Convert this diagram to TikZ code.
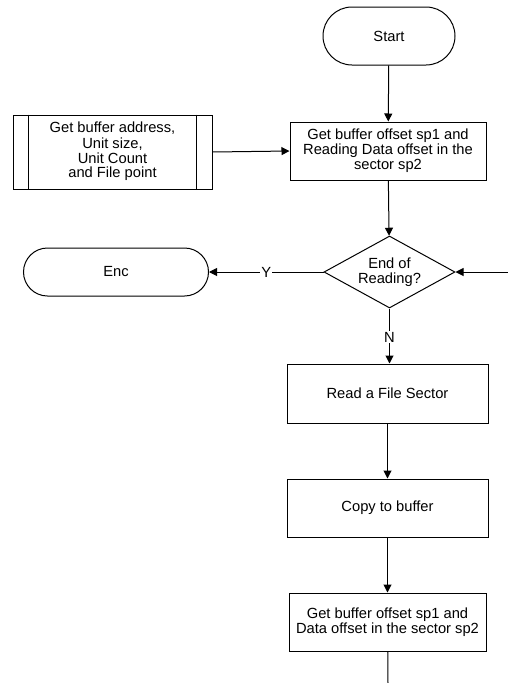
\documentclass[tikz,border=0pt]{standalone}
\usepackage{fontspec}
\setmainfont{Liberation Sans}
\usetikzlibrary{shapes.geometric,shapes.misc,arrows.meta}
\begin{document}
\begin{tikzpicture}[x=1pt,y=-1pt,
  txt/.style={font=\fontsize{14.7}{15}\selectfont},
  every node/.style={txt, align=center, line width=1pt},
  term/.style={draw, rounded rectangle, inner sep=0pt},
  procbox/.style={draw, rectangle, inner sep=0pt},
  decide/.style={draw, diamond, inner sep=0pt, aspect=1.82, minimum width=131pt, minimum height=72pt},
  flow/.style={line width=1pt, -{Triangle[length=8pt,width=8pt]}},
  plain/.style={line width=1pt},
  tag/.style={fill=white, inner sep=1pt, txt}]
\useasboundingbox (0,0) rectangle (508,683);

% terminators
\node[term, minimum width=132pt, minimum height=58pt] (start) at (389,36) {Start};
\node[term, minimum width=185pt, minimum height=48pt] (stop) at (116,272) {Enc};

% predefined process with inner side bars
\node[procbox, minimum width=199pt, minimum height=74pt] (input) at (112.5,152)
  {\raisebox{4pt}{\shortstack{Get buffer address,\\Unit size,\\Unit Count\\and File point}}};
\draw[plain] ([xshift=16pt]input.north west) -- ([xshift=16pt]input.south west);
\draw[plain] ([xshift=-16pt]input.north east) -- ([xshift=-16pt]input.south east);

% process steps
\node[procbox, minimum width=196pt, minimum height=58pt] (offset) at (388,151)
  {Get buffer offset sp1 and\\Reading Data offset in the\\sector sp2};
\node[decide] (done) at (389.5,272) {End of\\Reading?};
\node[procbox, minimum width=201pt, minimum height=59pt] (read) at (387.5,393.5) {Read a File Sector};
\node[procbox, minimum width=201pt, minimum height=58pt] (copy) at (387.5,508) {Copy to buffer};
\node[procbox, minimum width=197pt, minimum height=58pt] (next) at (387.5,622)
  {Get buffer offset sp1 and\\Data offset in the sector sp2};

% loop ends
\coordinate (loopin) at (508,272);
\coordinate (loopout) at (388,683);

% connectors
\draw[flow] (start) -- (offset);
\draw[flow] (input.east) -- (offset.west);
\draw[flow] (offset) -- (done);
\draw[flow] (done.west) -- node[tag] {Y} (stop.east);
\draw[flow] (loopin) -- (done.east);
\draw[flow] (done.south) -- node[tag, pos=0.52] {N} (read.north -| done.south);
\draw[flow] (read) -- (copy);
\draw[flow] (copy) -- (next);
\draw[plain] (next) -- (loopout);
\end{tikzpicture}
\end{document}
